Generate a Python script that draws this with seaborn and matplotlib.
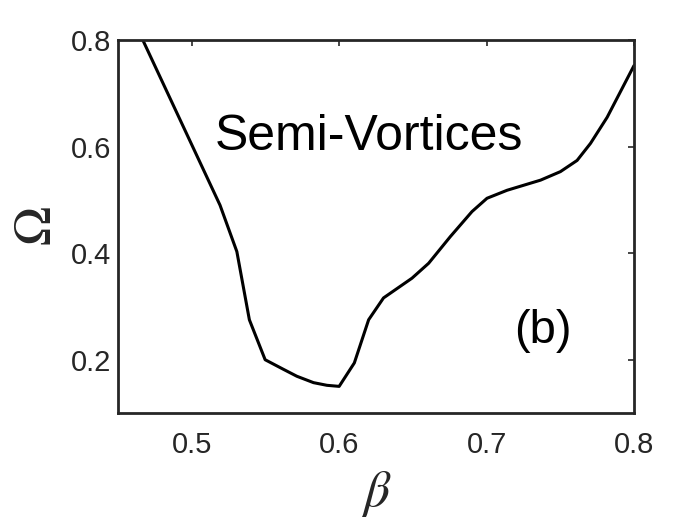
import numpy as np
import pandas as pd
import seaborn as sns
from matplotlib import pyplot as plt

sns.set_style("white")
plt.rcParams['font.family'] = ['Liberation Sans', 'DejaVu Sans']
plt.rcParams['mathtext.fontset'] = 'stix'

# boundary of the semi-vortex region
beta = [0.4668, 0.5192, 0.5306, 0.5391, 0.5498, 0.5622, 0.5713, 0.5826, 0.5917,
        0.600, 0.6103, 0.620, 0.6301, 0.6494, 0.6607, 0.6754, 0.6901, 0.7003,
        0.7139, 0.7366, 0.7501, 0.7614, 0.7705, 0.7818, 0.80]
omega = [0.80, 0.490, 0.403, 0.275, 0.200, 0.182, 0.169, 0.157, 0.152,
         0.150, 0.194, 0.275, 0.316, 0.353, 0.381, 0.431, 0.478, 0.503,
         0.518, 0.537, 0.553, 0.574, 0.606, 0.655, 0.752]

xticks = [0.5, 0.6, 0.7, 0.8]
yticks = [0.2, 0.4, 0.6, 0.8]

df = pd.DataFrame({'beta': beta, 'omega': omega})

fig = plt.figure(figsize=(7, 5.25), dpi=100)
ax = fig.add_axes([0.1686, 0.2133, 0.7371, 0.7105])
sns.lineplot(data=df, x='beta', y='omega', color='black', linewidth=2.2, ax=ax,
             sort=False, estimator=None)

ax.set_xlim(0.45, 0.8)
ax.set_ylim(0.1, 0.8)
ax.set_xticks(xticks)
ax.set_yticks(yticks)
ax.set_xticklabels([str(t) for t in xticks])
ax.set_yticklabels([str(t) for t in yticks])
ax.tick_params(direction='in', length=4, width=1.2, top=True, right=True,
               labelsize=21, labelcolor='#262626', color='#262626')
ax.tick_params(axis='x', pad=13)
ax.tick_params(axis='y', pad=5)
for s in ax.spines.values():
    s.set_linewidth(2)
    s.set_color('#262626')

ax.set_xlabel(r'$\beta$', fontsize=37, color='#262626', labelpad=7)
ax.set_ylabel(r'$\Omega$', fontsize=38, color='#262626', labelpad=6)

ax.text(0.620, 0.594, 'Semi-Vortices', fontsize=36, ha='center', va='baseline',
        color='black')
ax.text(0.7385, 0.2535, '(b)', fontsize=34, ha='center', va='center',
        color='black')

plt.savefig('out.png', dpi=100)
